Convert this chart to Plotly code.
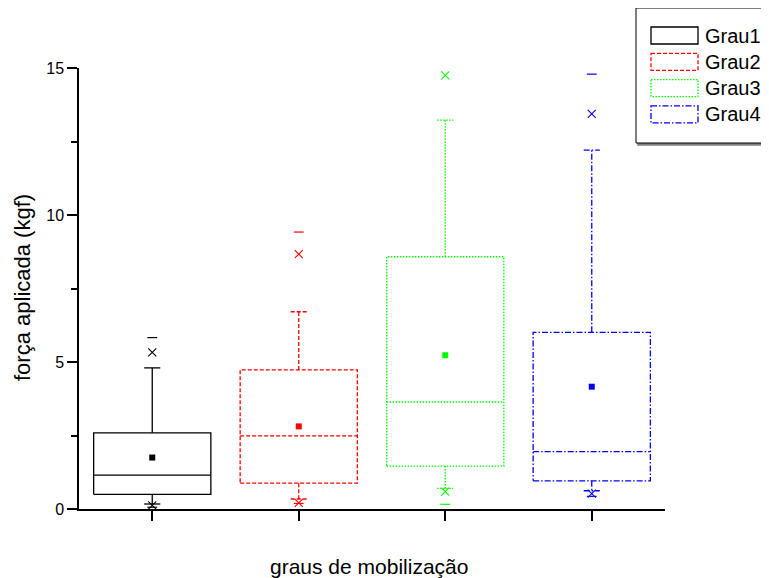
import plotly.graph_objects as go

# ---- data ----
categories = ["Grau1", "Grau2", "Grau3", "Grau4"]
positions = [1, 2, 3, 4]
q1 = [0.50, 0.88, 1.46, 0.96]
median = [1.15, 2.49, 3.64, 1.95]
q3 = [2.59, 4.73, 8.58, 6.01]
mean = [1.75, 2.81, 5.23, 4.16]
whisker_low = [0.17, 0.34, 0.70, 0.62]
whisker_high = [4.80, 6.71, 13.23, 12.21]
p1 = [0.12, 0.21, 0.59, 0.52]
p99 = [5.33, 8.67, 14.75, 13.44]
min_val = [0.06, 0.19, 0.16, 0.43]
max_val = [5.83, 9.42, None, 14.79]

y_ticks = [0, 5, 10, 15]
y_ticklabels = ["0", "5", "10", "15"]

# ---- styles ----
colors = ["#000000", "#FF0000", "#00FF00", "#0000FF"]
dashes = ["solid", "4px,2px", "1.5px,1.5px", "6px,2px,1.5px,2px"]
BOX_HALF = 0.40
CAP_HALF = 0.055
FONT = "Liberation Sans, Arial, sans-serif"

OFF = 8  # page body margin: reference pixel = figure pixel + OFF
W, H = 769, 578
L = 79 - OFF
T = 68 - OFF
R = W - (665 - OFF)
B = H - (509 - OFF)
PW, PH = W - L - R, H - T - B


def px_x(p):
    """reference-picture x pixel -> paper coordinate"""
    return (p - OFF - L) / PW


def px_y(p):
    """reference-picture y pixel -> paper coordinate"""
    return (H - B - (p - OFF)) / PH


fig = go.Figure()

for i, c in enumerate(positions):
    col, dsh = colors[i], dashes[i]
    line = dict(color=col, width=1.3, dash=dsh)
    # box outline
    fig.add_trace(go.Scatter(
        x=[c - BOX_HALF, c + BOX_HALF, c + BOX_HALF, c - BOX_HALF, c - BOX_HALF],
        y=[q1[i], q1[i], q3[i], q3[i], q1[i]],
        mode="lines", line=line, showlegend=False, hoverinfo="skip"))
    # median, whiskers, caps
    xs = [c - BOX_HALF, c + BOX_HALF, None,
          c, c, None,
          c, c, None,
          c - CAP_HALF, c + CAP_HALF, None,
          c - CAP_HALF, c + CAP_HALF]
    ys = [median[i], median[i], None,
          q3[i], whisker_high[i], None,
          q1[i], whisker_low[i], None,
          whisker_high[i], whisker_high[i], None,
          whisker_low[i], whisker_low[i]]
    fig.add_trace(go.Scatter(x=xs, y=ys, mode="lines", line=line,
                             showlegend=False, hoverinfo="skip"))
    # mean
    fig.add_trace(go.Scatter(x=[c], y=[mean[i]], mode="markers",
                             marker=dict(symbol="square", size=6, color=col),
                             showlegend=False, cliponaxis=False))
    # 1% / 99%
    fig.add_trace(go.Scatter(x=[c, c], y=[p1[i], p99[i]], mode="markers",
                             marker=dict(symbol="x-thin-open", size=8, color=col,
                                         line=dict(color=col, width=1.1)),
                             showlegend=False, cliponaxis=False))
    # min / max
    mm_y = [v for v in (min_val[i], max_val[i]) if v is not None]
    fig.add_trace(go.Scatter(x=[c] * len(mm_y), y=mm_y, mode="markers",
                             marker=dict(symbol="line-ew-open", size=7, color=col,
                                         line=dict(color=col, width=1.2)),
                             showlegend=False, cliponaxis=False))

shapes = []
annotations = []

# legend frame (with shadow)
lx0, lx1, ly0, ly1 = 636, 780, 8, 143
shapes.append(dict(type="rect", xref="paper", yref="paper",
                   x0=px_x(lx0 + 2), x1=px_x(lx1 + 2), y0=px_y(ly0 + 2), y1=px_y(ly1 + 2),
                   line=dict(color="#808080", width=1.5), fillcolor="#808080", layer="above"))
shapes.append(dict(type="rect", xref="paper", yref="paper",
                   x0=px_x(lx0), x1=px_x(lx1), y0=px_y(ly0), y1=px_y(ly1),
                   line=dict(color="#000000", width=1), fillcolor="#FFFFFF", layer="above"))
row_top = 27
row_pitch = 26.3
for i, name in enumerate(categories):
    top = row_top + i * row_pitch
    shapes.append(dict(type="rect", xref="paper", yref="paper",
                       x0=px_x(651), x1=px_x(698), y0=px_y(top), y1=px_y(top + 17),
                       line=dict(color=colors[i], width=1.3, dash=dashes[i]),
                       fillcolor="rgba(0,0,0,0)", layer="above"))
    annotations.append(dict(xref="paper", yref="paper", x=px_x(703), y=px_y(top + 8.5),
                            text=name, showarrow=False, xanchor="left", yanchor="middle",
                            font=dict(family=FONT, size=20, color="#000000")))

# axis titles
annotations.append(dict(xref="paper", yref="paper", x=px_x(22), y=px_y(288),
                        text="força aplicada (kgf)", textangle=-90, showarrow=False,
                        xanchor="center", yanchor="middle",
                        font=dict(family=FONT, size=22, color="#000000")))
annotations.append(dict(xref="paper", yref="paper", x=px_x(369), y=px_y(566),
                        text="graus de mobilização", showarrow=False,
                        xanchor="center", yanchor="middle",
                        font=dict(family=FONT, size=21, color="#000000")))

fig.update_layout(
    width=W, height=H,
    margin=dict(l=L, r=R, t=T, b=B, pad=0),
    paper_bgcolor="white", plot_bgcolor="white",
    showlegend=False,
    shapes=shapes, annotations=annotations,
    xaxis=dict(range=[0.5, 4.5], tickvals=positions, showticklabels=False,
               ticks="outside", ticklen=10, tickwidth=1.5, tickcolor="black",
               showline=True, linewidth=1.5, linecolor="black",
               showgrid=False, zeroline=False, fixedrange=True),
    yaxis=dict(range=[0, 15], tickvals=y_ticks, ticktext=y_ticklabels,
               ticks="outside", ticklen=10, tickwidth=1.5, tickcolor="black",
               minor=dict(ticks="outside", ticklen=6, tickwidth=1.5, tickcolor="black", dtick=2.5),
               showline=True, linewidth=1.5, linecolor="black",
               showgrid=False, zeroline=False,
               tickfont=dict(family=FONT, size=16, color="black"), fixedrange=True),
)

fig.write_html("out.html")
